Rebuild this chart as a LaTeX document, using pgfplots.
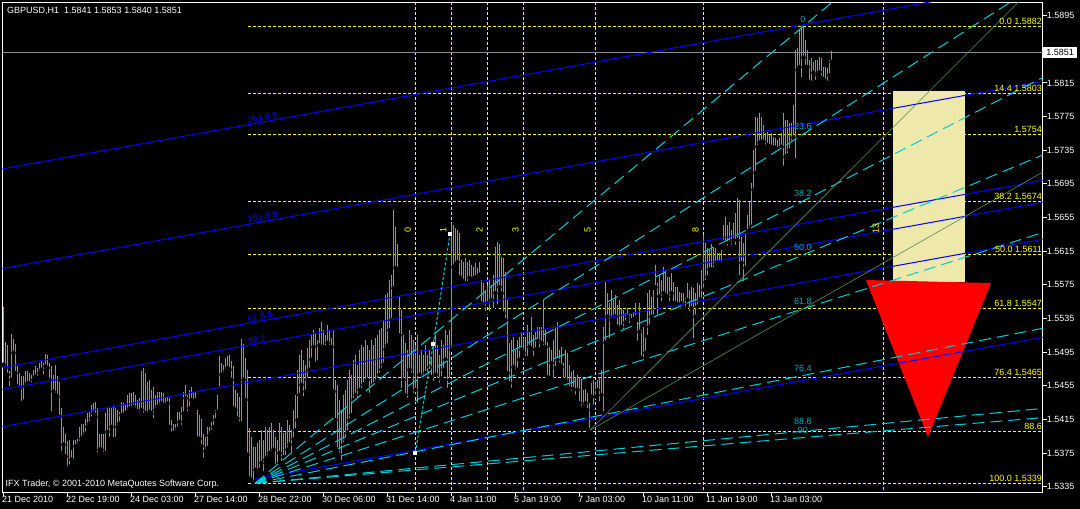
\documentclass[border=0pt]{standalone}
\usepackage{pgfplots}
\pgfplotsset{compat=1.18}
\usepackage{pgfplotstable}
\usepackage{fontspec}
\setmainfont{Liberation Sans}

\definecolor{barg}{RGB}{50,215,40}
\definecolor{fibb}{RGB}{0,0,255}
\definecolor{fanc}{RGB}{0,205,215}
\definecolor{fanl}{RGB}{0,170,190}
\definecolor{gline}{RGB}{90,140,90}
\definecolor{pgold}{RGB}{238,232,170}
\definecolor{yel}{RGB}{255,255,0}
\definecolor{pline}{RGB}{140,140,150}

% GBPUSD H1 bars, high / low, one row per bar
\pgfplotstableread{
H L
1.5549 1.5480
1.5507 1.5476
1.5503 1.5468
1.5472 1.5452
1.5517 1.5462
1.5511 1.5494
1.5505 1.5470
1.5478 1.5454
1.5470 1.5452
1.5466 1.5434
1.5466 1.5436
1.5472 1.5454
1.5472 1.5458
1.5470 1.5458
1.5468 1.5456
1.5474 1.5462
1.5478 1.5466
1.5476 1.5464
1.5482 1.5470
1.5486 1.5474
1.5482 1.5466
1.5493 1.5478
1.5492 1.5476
1.5482 1.5462
1.5478 1.5422
1.5468 1.5448
1.5480 1.5444
1.5466 1.5442
1.5460 1.5418
1.5428 1.5375
1.5406 1.5385
1.5398 1.5371
1.5389 1.5355
1.5391 1.5359
1.5379 1.5367
1.5391 1.5365
1.5391 1.5383
1.5392 1.5383
1.5406 1.5387
1.5410 1.5392
1.5410 1.5394
1.5416 1.5398
1.5422 1.5406
1.5424 1.5410
1.5432 1.5416
1.5434 1.5422
1.5436 1.5418
1.5428 1.5373
1.5398 1.5379
1.5398 1.5379
1.5398 1.5373
1.5422 1.5375
1.5430 1.5400
1.5428 1.5392
1.5428 1.5406
1.5430 1.5391
1.5428 1.5392
1.5426 1.5406
1.5424 1.5410
1.5436 1.5420
1.5434 1.5420
1.5432 1.5422
1.5444 1.5424
1.5446 1.5428
1.5446 1.5426
1.5448 1.5430
1.5444 1.5426
1.5438 1.5424
1.5440 1.5420
1.5472 1.5426
1.5476 1.5420
1.5470 1.5422
1.5460 1.5420
1.5462 1.5424
1.5450 1.5422
1.5454 1.5414
1.5444 1.5426
1.5448 1.5430
1.5448 1.5430
1.5448 1.5434
1.5446 1.5430
1.5442 1.5432
1.5442 1.5434
1.5440 1.5406
1.5414 1.5398
1.5410 1.5398
1.5410 1.5400
1.5424 1.5404
1.5424 1.5412
1.5430 1.5406
1.5448 1.5422
1.5456 1.5440
1.5444 1.5422
1.5450 1.5428
1.5454 1.5438
1.5448 1.5436
1.5448 1.5438
1.5426 1.5392
1.5420 1.5392
1.5416 1.5383
1.5398 1.5367
1.5394 1.5377
1.5406 1.5381
1.5406 1.5396
1.5412 1.5400
1.5420 1.5406
1.5426 1.5414
1.5444 1.5424
1.5490 1.5452
1.5482 1.5468
1.5480 1.5468
1.5488 1.5472
1.5490 1.5476
1.5492 1.5474
1.5484 1.5462
1.5478 1.5428
1.5450 1.5426
1.5446 1.5416
1.5442 1.5410
1.5510 1.5410
1.5505 1.5462
1.5488 1.5438
1.5474 1.5373
1.5405 1.5345
1.5394 1.5342
1.5382 1.5339
1.5382 1.5355
1.5387 1.5351
1.5391 1.5355
1.5402 1.5363
1.5391 1.5351
1.5406 1.5367
1.5402 1.5370
1.5406 1.5375
1.5411 1.5375
1.5402 1.5379
1.5394 1.5358
1.5391 1.5361
1.5411 1.5375
1.5406 1.5363
1.5399 1.5370
1.5400 1.5370
1.5414 1.5379
1.5408 1.5385
1.5402 1.5373
1.5426 1.5391
1.5444 1.5402
1.5474 1.5414
1.5492 1.5444
1.5498 1.5456
1.5486 1.5440
1.5480 1.5448
1.5500 1.5462
1.5509 1.5474
1.5515 1.5486
1.5521 1.5501
1.5518 1.5480
1.5509 1.5483
1.5524 1.5503
1.5531 1.5498
1.5521 1.5501
1.5515 1.5500
1.5527 1.5506
1.5521 1.5501
1.5512 1.5501
1.5521 1.5448
1.5462 1.5414
1.5456 1.5379
1.5438 1.5373
1.5426 1.5364
1.5444 1.5385
1.5450 1.5391
1.5462 1.5399
1.5474 1.5414
1.5468 1.5420
1.5486 1.5438
1.5492 1.5444
1.5480 1.5438
1.5498 1.5450
1.5503 1.5450
1.5501 1.5456
1.5509 1.5458
1.5503 1.5462
1.5498 1.5444
1.5509 1.5452
1.5503 1.5456
1.5512 1.5458
1.5515 1.5462
1.5521 1.5468
1.5524 1.5474
1.5533 1.5480
1.5563 1.5498
1.5565 1.5503
1.5581 1.5521
1.5587 1.5533
1.5664 1.5571
1.5644 1.5595
1.5623 1.5593
1.5561 1.5515
1.5545 1.5450
1.5515 1.5462
1.5506 1.5444
1.5498 1.5438
1.5521 1.5474
1.5515 1.5468
1.5509 1.5444
1.5503 1.5450
1.5515 1.5432
1.5492 1.5468
1.5498 1.5462
1.5492 1.5465
1.5503 1.5470
1.5492 1.5468
1.5498 1.5477
1.5489 1.5465
1.5509 1.5458
1.5515 1.5468
1.5503 1.5462
1.5492 1.5456
1.5509 1.5464
1.5503 1.5474
1.5521 1.5486
1.5515 1.5450
1.5521 1.5462
1.5649 1.5498
1.5646 1.5596
1.5643 1.5599
1.5640 1.5602
1.5637 1.5584
1.5605 1.5581
1.5602 1.5578
1.5607 1.5577
1.5602 1.5577
1.5605 1.5583
1.5599 1.5581
1.5596 1.5583
1.5601 1.5584
1.5595 1.5583
1.5602 1.5587
1.5581 1.5553
1.5577 1.5549
1.5569 1.5541
1.5575 1.5553
1.5581 1.5541
1.5575 1.5557
1.5587 1.5545
1.5620 1.5565
1.5626 1.5549
1.5623 1.5572
1.5608 1.5565
1.5607 1.5541
1.5590 1.5533
1.5557 1.5470
1.5506 1.5458
1.5509 1.5450
1.5513 1.5477
1.5498 1.5470
1.5509 1.5474
1.5513 1.5486
1.5519 1.5498
1.5512 1.5494
1.5513 1.5488
1.5527 1.5488
1.5519 1.5501
1.5537 1.5498
1.5515 1.5488
1.5519 1.5498
1.5525 1.5509
1.5525 1.5498
1.5525 1.5506
1.5557 1.5501
1.5521 1.5501
1.5507 1.5465
1.5501 1.5464
1.5498 1.5482
1.5509 1.5462
1.5525 1.5476
1.5531 1.5486
1.5498 1.5480
1.5501 1.5477
1.5482 1.5462
1.5498 1.5462
1.5494 1.5458
1.5480 1.5452
1.5471 1.5446
1.5474 1.5451
1.5465 1.5442
1.5468 1.5450
1.5465 1.5434
1.5462 1.5426
1.5450 1.5430
1.5451 1.5434
1.5446 1.5426
1.5434 1.5402
1.5458 1.5442
1.5462 1.5430
1.5458 1.5442
1.5462 1.5450
1.5465 1.5434
1.5474 1.5444
1.5525 1.5422
1.5578 1.5506
1.5565 1.5537
1.5553 1.5509
1.5569 1.5533
1.5557 1.5537
1.5563 1.5537
1.5551 1.5525
1.5557 1.5521
1.5547 1.5525
1.5545 1.5519
1.5541 1.5530
1.5547 1.5537
1.5541 1.5527
1.5541 1.5533
1.5543 1.5533
1.5553 1.5536
1.5531 1.5506
1.5553 1.5519
1.5521 1.5488
1.5525 1.5486
1.5513 1.5494
1.5565 1.5513
1.5569 1.5525
1.5561 1.5537
1.5569 1.5537
1.5599 1.5572
1.5577 1.5537
1.5587 1.5561
1.5581 1.5553
1.5596 1.5565
1.5593 1.5561
1.5584 1.5561
1.5584 1.5553
1.5589 1.5565
1.5578 1.5553
1.5572 1.5553
1.5572 1.5551
1.5566 1.5549
1.5565 1.5553
1.5565 1.5549
1.5559 1.5545
1.5577 1.5557
1.5569 1.5541
1.5572 1.5547
1.5571 1.5509
1.5565 1.5537
1.5577 1.5549
1.5575 1.5558
1.5593 1.5557
1.5634 1.5569
1.5625 1.5578
1.5619 1.5584
1.5616 1.5593
1.5623 1.5593
1.5619 1.5593
1.5619 1.5599
1.5613 1.5601
1.5613 1.5601
1.5616 1.5601
1.5646 1.5626
1.5656 1.5625
1.5646 1.5619
1.5650 1.5625
1.5640 1.5620
1.5649 1.5628
1.5660 1.5620
1.5678 1.5628
1.5676 1.5584
1.5632 1.5601
1.5625 1.5577
1.5637 1.5595
1.5658 1.5637
1.5673 1.5640
1.5696 1.5644
1.5735 1.5688
1.5775 1.5708
1.5773 1.5739
1.5779 1.5744
1.5775 1.5745
1.5765 1.5745
1.5755 1.5738
1.5757 1.5741
1.5753 1.5739
1.5755 1.5739
1.5751 1.5738
1.5750 1.5738
1.5747 1.5735
1.5750 1.5735
1.5755 1.5739
1.5779 1.5714
1.5771 1.5727
1.5771 1.5729
1.5767 1.5735
1.5767 1.5744
1.5789 1.5750
1.5854 1.5723
1.5857 1.5830
1.5878 1.5834
1.5880 1.5819
1.5882 1.5845
1.5866 1.5834
1.5854 1.5834
1.5842 1.5816
1.5845 1.5815
1.5840 1.5827
1.5842 1.5816
1.5842 1.5824
1.5846 1.5828
1.5845 1.5821
1.5834 1.5819
1.5834 1.5816
1.5833 1.5815
1.5842 1.5824
1.5853 1.5840
}\bars

\begin{document}
\begin{tikzpicture}[x=1pt,y=1pt,font=\fontsize{9}{10.8}\selectfont]
\fill[black] (0,0) rectangle (1080,509);
\begin{axis}[
  at={(2.3pt,16.7pt)}, anchor=south west,
  scale only axis, width=1040.4pt, height=490pt,
  xmin=-0.6, xmax=519.6, ymin=1.53283, ymax=1.59109,
  clip mode=individual,
  axis line style={white, line width=1pt},
  tick style={white, line width=1pt},
  tick align=outside, major tick length=4pt,
  xtick pos=left, ytick pos=right, yticklabel pos=right,
  xtick={0,32,...,384},
  xticklabels={21 Dec 2010,22 Dec 19:00,24 Dec 03:00,27 Dec 14:00,28 Dec 22:00,30 Dec 06:00,31 Dec 14:00,4 Jan 11:00,5 Jan 19:00,7 Jan 03:00,10 Jan 11:00,11 Jan 19:00,13 Jan 03:00},
  ytick={1.5335,1.5375,1.5415,1.5455,1.5495,1.5535,1.5575,1.5615,1.5655,1.5695,1.5735,1.5775,1.5815,1.5895},
  yticklabels={1.5335,1.5375,1.5415,1.5455,1.5495,1.5535,1.5575,1.5615,1.5655,1.5695,1.5735,1.5775,1.5815,1.5895},
  xticklabel style={anchor=north west, inner sep=0pt, xshift=-1.5pt, text=white, font=\fontsize{9}{10.8}\selectfont},
  yticklabel style={anchor=west, inner sep=0pt, text=white, font=\fontsize{9}{10.8}\selectfont},
]
% Fibonacci retracement levels
\addplot[yel, line width=1pt, dash pattern=on 3pt off 2pt] coordinates {(122.25,1.5882)(519.6,1.5882)};
\addplot[yel, line width=1pt, dash pattern=on 3pt off 2pt] coordinates {(122.25,1.5803)(519.6,1.5803)};
\addplot[yel, line width=1pt, dash pattern=on 3pt off 2pt] coordinates {(122.25,1.5754)(519.6,1.5754)};
\addplot[yel, line width=1pt, dash pattern=on 3pt off 2pt] coordinates {(122.25,1.5674)(519.6,1.5674)};
\addplot[yel, line width=1pt, dash pattern=on 3pt off 2pt] coordinates {(122.25,1.5611)(519.6,1.5611)};
\addplot[yel, line width=1pt, dash pattern=on 3pt off 2pt] coordinates {(122.25,1.5547)(519.6,1.5547)};
\addplot[yel, line width=1pt, dash pattern=on 3pt off 2pt] coordinates {(122.25,1.5465)(519.6,1.5465)};
\addplot[yel, line width=1pt, dash pattern=on 3pt off 2pt] coordinates {(122.25,1.5401)(519.6,1.5401)};
\addplot[yel, line width=1pt, dash pattern=on 3pt off 2pt] coordinates {(122.25,1.5339)(519.6,1.5339)};
% Fibonacci time zones
\addplot[yel, line width=1pt, dash pattern=on 3pt off 2pt] coordinates {(205.9,1.52)(205.9,1.60)};
\addplot[yel, line width=1pt, dash pattern=on 3pt off 2pt] coordinates {(224,1.52)(224,1.60)};
\addplot[yel, line width=1pt, dash pattern=on 3pt off 2pt] coordinates {(241.9,1.52)(241.9,1.60)};
\addplot[yel, line width=1pt, dash pattern=on 3pt off 2pt] coordinates {(259.9,1.52)(259.9,1.60)};
\addplot[yel, line width=1pt, dash pattern=on 3pt off 2pt] coordinates {(295.9,1.52)(295.9,1.60)};
\addplot[yel, line width=1pt, dash pattern=on 3pt off 2pt] coordinates {(349.9,1.52)(349.9,1.60)};
\addplot[yel, line width=1pt, dash pattern=on 3pt off 2pt] coordinates {(440.1,1.52)(440.1,1.60)};
% bid line
\addplot[pline, line width=1pt] coordinates {(-0.6,1.5851)(519.6,1.5851)};
% rectangle and arrow
\addplot[fill=pgold, draw=none] coordinates {(444.9,1.55787)(480.75,1.55787)(480.75,1.58054)(444.9,1.58054)} --cycle;
\addplot[fill=red, draw=none] coordinates {(431.25,1.55807)(493.75,1.55771)(462.25,1.53941)} --cycle;
% bars
\addplot[only marks, mark=none, error bars/.cd, y dir=plus, y explicit, error mark=none,
  error bar style={barg, line width=1pt}]
  table[x expr=\coordindex, y=L, y error expr=\thisrow{H}-\thisrow{L}] {\bars};
% Fibonacci channel
\addplot[fibb, line width=1pt] coordinates {(-1.75,1.57123)(519.75,1.59355)};
\addplot[fibb, line width=1pt] coordinates {(-1.75,1.55938)(519.75,1.58169)};
\addplot[fibb, line width=1pt] coordinates {(-1.75,1.54761)(519.75,1.56992)};
\addplot[fibb, line width=1pt] coordinates {(-1.75,1.54499)(519.75,1.56731)};
\addplot[fibb, line width=1pt] coordinates {(-1.75,1.54059)(519.75,1.56291)};
\addplot[fibb, line width=1pt] coordinates {(125.75,1.53440)(519.75,1.55126)};
% Fibonacci fan
\addplot[fanc, line width=1pt, dash pattern=on 12pt off 6pt] coordinates {(125.75,1.5339)(519.6,1.61195)};
\addplot[fanc, line width=1pt, dash pattern=on 12pt off 6pt] coordinates {(125.75,1.5339)(519.6,1.59354)};
\addplot[fanc, line width=1pt, dash pattern=on 12pt off 6pt] coordinates {(125.75,1.5339)(519.6,1.58214)};
\addplot[fanc, line width=1pt, dash pattern=on 12pt off 6pt] coordinates {(125.75,1.5339)(519.6,1.57293)};
\addplot[fanc, line width=1pt, dash pattern=on 12pt off 6pt] coordinates {(125.75,1.5339)(519.6,1.56371)};
\addplot[fanc, line width=1pt, dash pattern=on 12pt off 6pt] coordinates {(125.75,1.5339)(519.6,1.55233)};
\addplot[fanc, line width=1pt, dash pattern=on 12pt off 6pt] coordinates {(125.75,1.5339)(519.6,1.54280)};
\addplot[fanc, line width=1pt, dash pattern=on 12pt off 6pt] coordinates {(125.75,1.5339)(519.6,1.54171)};
% Gann lines from the 7 Jan low
\addplot[gline, line width=0.6pt] coordinates {(293.25,1.5402)(519.6,1.5940)};
\addplot[gline, line width=0.6pt] coordinates {(293.25,1.5402)(519.6,1.5709)};
% wave line
\addplot[fanc, line width=1pt, dash pattern=on 3pt off 2pt, mark=square*, mark size=1.5pt,
  mark options={solid, fill=white, draw=white}] coordinates {(205.9,1.5375)(214.9,1.5505)(223.25,1.5636)};
% labels
\node[yel, anchor=south east, inner sep=0pt, yshift=1.5pt] at (axis cs:519.3,1.5882) {0.0 1.5882};
\node[yel, anchor=south east, inner sep=0pt, yshift=1.5pt] at (axis cs:519.3,1.5803) {14.4 1.5803};
\node[yel, anchor=south east, inner sep=0pt, yshift=1.5pt] at (axis cs:519.3,1.5754) {1.5754};
\node[yel, anchor=south east, inner sep=0pt, yshift=1.5pt] at (axis cs:519.3,1.5674) {38.2 1.5674};
\node[yel, anchor=south east, inner sep=0pt, yshift=1.5pt] at (axis cs:519.3,1.5611) {50.0 1.5611};
\node[yel, anchor=south east, inner sep=0pt, yshift=1.5pt] at (axis cs:519.3,1.5547) {61.8 1.5547};
\node[yel, anchor=south east, inner sep=0pt, yshift=1.5pt] at (axis cs:519.3,1.5465) {76.4 1.5465};
\node[yel, anchor=south east, inner sep=0pt, yshift=1.5pt] at (axis cs:519.3,1.5401) {88.6};
\node[yel, anchor=south east, inner sep=0pt, yshift=1.5pt] at (axis cs:519.3,1.5339) {100.0 1.5339};
\node[yel, rotate=90] at (axis cs:202.1,1.5640) {0};
\node[yel, rotate=90] at (axis cs:219.9,1.5640) {1};
\node[yel, rotate=90] at (axis cs:238,1.5640) {2};
\node[yel, rotate=90] at (axis cs:256,1.5640) {3};
\node[yel, rotate=90] at (axis cs:292,1.5640) {5};
\node[yel, rotate=90] at (axis cs:346,1.5640) {8};
\node[yel, rotate=90] at (axis cs:436.1,1.5642) {13};
\node[fanl, anchor=south, inner sep=0pt, yshift=4pt] at (axis cs:399.75,1.5882) {0};
\node[fanl, anchor=south, inner sep=0pt, yshift=4pt] at (axis cs:399.75,1.5754) {23.6};
\node[fanl, anchor=south, inner sep=0pt, yshift=4pt] at (axis cs:399.75,1.56746) {38.2};
\node[fanl, anchor=south, inner sep=0pt, yshift=4pt] at (axis cs:399.75,1.56105) {50.0};
\node[fanl, anchor=south, inner sep=0pt, yshift=4pt] at (axis cs:399.75,1.55464) {61.8};
\node[fanl, anchor=south, inner sep=0pt, yshift=4pt] at (axis cs:399.75,1.54672) {76.4};
\node[fanl, anchor=south, inner sep=0pt, yshift=6pt] at (axis cs:399.75,1.54009) {88.6};
\node[fanl, anchor=south, inner sep=0pt, yshift=4pt] at (axis cs:399.75,1.53933) {90};
\node[fibb, rotate=10.2, anchor=south west, inner sep=0.5pt] at (axis cs:122.25,1.5765) {261.8 \$};
\node[fibb, rotate=10.2, anchor=south west, inner sep=0.5pt] at (axis cs:122.25,1.5647) {161.8 \$};
\node[fibb, rotate=10.2, anchor=south west, inner sep=0.5pt] at (axis cs:122.25,1.5529) {61.8 \$};
\node[fibb, rotate=10.2, anchor=south west, inner sep=0.5pt] at (axis cs:122.25,1.5503) {38.2};
\coordinate (bid) at (axis cs:519.6,1.5851);
\end{axis}
\node[fill=white, text=black, anchor=west, inner xsep=3.5pt, inner ysep=2pt] at (bid) {1.5851};
\node[white, anchor=west, inner sep=0pt] at (7,498.5) {GBPUSD,H1\ \ 1.5841 1.5853 1.5840 1.5851};
\node[white, anchor=west, inner sep=0pt] at (5.5,24.5) {IFX Trader, \textcopyright{} 2001-2010 MetaQuotes Software Corp.};
\pgfresetboundingbox
\path (0,0) rectangle (1080,509);
\end{tikzpicture}
\end{document}
